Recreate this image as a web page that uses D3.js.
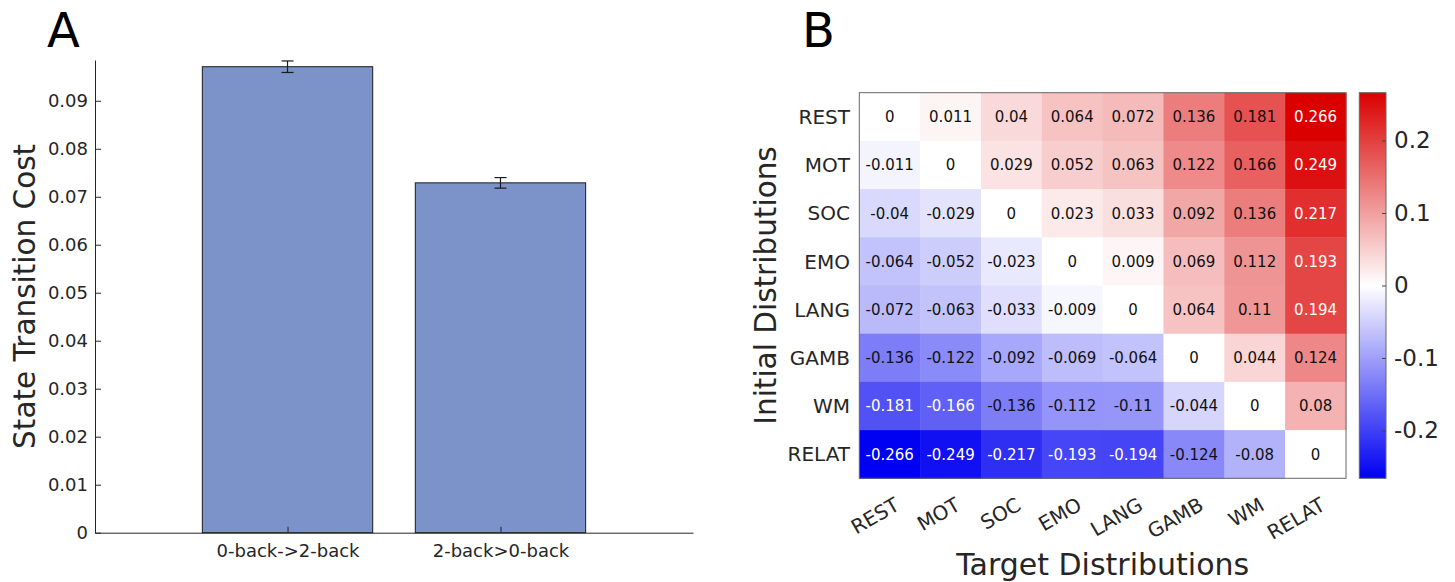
<!DOCTYPE html>
<html>
<head>
<meta charset="utf-8">
<script src="https://cdn.jsdelivr.net/npm/d3@7"></script>
<style>
  body { margin: 0; padding: 0; background: #fff; }
  text { font-family: "DejaVu Sans", sans-serif; }
</style>
</head>
<body>
<script>
// panel A data
const barLabels = ["0-back->2-back", "2-back>0-back"]
const barValues = [0.0971, 0.0729]
const barErrors = [0.0012, 0.0011]
const costTicks = [0, 0.01, 0.02, 0.03, 0.04, 0.05, 0.06, 0.07, 0.08, 0.09]

// panel B data (rows = initial, cols = target)
const states = ["REST", "MOT", "SOC", "EMO", "LANG", "GAMB", "WM", "RELAT"]
const transitionCost = [
  [0, 0.011, 0.04, 0.064, 0.072, 0.136, 0.181, 0.266],
  [-0.011, 0, 0.029, 0.052, 0.063, 0.122, 0.166, 0.249],
  [-0.04, -0.029, 0, 0.023, 0.033, 0.092, 0.136, 0.217],
  [-0.064, -0.052, -0.023, 0, 0.009, 0.069, 0.112, 0.193],
  [-0.072, -0.063, -0.033, -0.009, 0, 0.064, 0.11, 0.194],
  [-0.136, -0.122, -0.092, -0.069, -0.064, 0, 0.044, 0.124],
  [-0.181, -0.166, -0.136, -0.112, -0.11, -0.044, 0, 0.08],
  [-0.266, -0.249, -0.217, -0.193, -0.194, -0.124, -0.08, 0]
]
const colorTicks = [-0.2, -0.1, 0, 0.1, 0.2]

const width = 1455
const height = 582
const ink = "#262626"

const svg = d3.select("body").append("svg")
  .attr("width", width)
  .attr("height", height)

// ---------- panel A ----------
const a = svg.append("g")

const x = d3.scaleLinear().domain([0.096, 2.904]).range([95, 693])
const y = d3.scaleLinear().domain([0, 0.0985]).range([532.7, 60])

a.selectAll("rect.bar")
  .data(barValues)
  .join("rect")
  .attr("class", "bar")
  .attr("x", (d, i) => x(i + 1 - 0.4))
  .attr("width", x(1.4) - x(0.6))
  .attr("y", d => y(d))
  .attr("height", d => y(0) - y(d))
  .attr("fill", "#7c93c9")
  .attr("stroke", "#1a1a1a")
  .attr("stroke-width", 1)

// error bars
const err = a.append("g").attr("stroke", "#1a1a1a").attr("stroke-width", 1.2)
barValues.forEach((v, i) => {
  const cx = x(i + 1)
  const lo = y(v - barErrors[i]), hi = y(v + barErrors[i])
  err.append("line").attr("x1", cx).attr("x2", cx).attr("y1", lo).attr("y2", hi)
  err.append("line").attr("x1", cx - 6).attr("x2", cx + 6).attr("y1", lo).attr("y2", lo)
  err.append("line").attr("x1", cx - 6).attr("x2", cx + 6).attr("y1", hi).attr("y2", hi)
})

// y axis (ticks pointing inward like matlab)
const yAxis = a.append("g")
  .attr("transform", `translate(${x.range()[0]},0)`)
  .call(d3.axisRight(y).tickValues(costTicks).tickSize(6).tickSizeOuter(0)
    .tickFormat(d => d === 0 ? "0" : d3.format(".2f")(d)))
yAxis.select(".domain").attr("stroke", ink)
yAxis.selectAll(".tick line").attr("stroke", ink)
yAxis.selectAll(".tick text")
  .attr("x", -7)
  .attr("text-anchor", "end")
  .attr("fill", ink)
  .attr("font-size", 18)
  .attr("font-family", "DejaVu Sans")

// x axis
const xAxis = a.append("g")
  .attr("transform", `translate(0,${y(0)})`)
  .call(d3.axisTop(x).tickValues([1, 2]).tickSize(6).tickSizeOuter(0)
    .tickFormat((d, i) => barLabels[i]))
xAxis.select(".domain").attr("stroke", ink)
xAxis.selectAll(".tick line").attr("stroke", ink)
xAxis.selectAll(".tick text")
  .attr("y", 24)
  .attr("fill", ink)
  .attr("font-size", 18)
  .attr("font-family", "DejaVu Sans")

a.append("text")
  .attr("transform", `translate(35,${(y.range()[0] + y.range()[1]) / 2}) rotate(-90)`)
  .attr("text-anchor", "middle")
  .attr("font-size", 29.5)
  .attr("fill", ink)
  .text("State Transition Cost")

svg.append("text")
  .attr("x", 47).attr("y", 47)
  .attr("font-size", 48)
  .attr("fill", "#000")
  .text("A")

// ---------- panel B ----------
const b = svg.append("g")

const cx = d3.scaleBand().domain(states).range([859.3, 1346])
const cy = d3.scaleBand().domain(states).range([92.7, 478.3])
const vmax = 0.266
const color = d3.scaleLinear()
  .domain([-vmax, 0, vmax])
  .range(["#0000f2", "#ffffff", "#da0000"])

const cells = transitionCost.flatMap((row, r) =>
  row.map((v, c) => ({ row: states[r], col: states[c], v })))

b.selectAll("rect.cell")
  .data(cells)
  .join("rect")
  .attr("class", "cell")
  .attr("x", d => cx(d.col))
  .attr("y", d => cy(d.row))
  .attr("width", cx.bandwidth() + 0.5)
  .attr("height", cy.bandwidth() + 0.5)
  .attr("fill", d => color(d.v))

const lum = v => {
  const c = d3.rgb(color(v))
  return 0.299 * c.r + 0.587 * c.g + 0.114 * c.b
}

b.selectAll("text.val")
  .data(cells)
  .join("text")
  .attr("class", "val")
  .attr("x", d => cx(d.col) + cx.bandwidth() / 2)
  .attr("y", d => cy(d.row) + cy.bandwidth() / 2)
  .attr("dy", "0.36em")
  .attr("text-anchor", "middle")
  .attr("font-size", 15)
  .attr("fill", d => lum(d.v) < 120 ? "#fff" : "#111")
  .text(d => String(d.v))

b.append("rect")
  .attr("x", cx.range()[0]).attr("y", cy.range()[0])
  .attr("width", cx.range()[1] - cx.range()[0])
  .attr("height", cy.range()[1] - cy.range()[0])
  .attr("fill", "none")
  .attr("stroke", "#666")
  .attr("stroke-width", 1)

// row labels
b.selectAll("text.rowlab")
  .data(states)
  .join("text")
  .attr("class", "rowlab")
  .attr("x", 850)
  .attr("y", d => cy(d) + cy.bandwidth() / 2)
  .attr("dy", "0.36em")
  .attr("text-anchor", "end")
  .attr("font-size", 20)
  .attr("fill", ink)
  .text(d => d)

// column labels, rotated
b.selectAll("text.collab")
  .data(states)
  .join("text")
  .attr("class", "collab")
  .attr("transform", d => `translate(${cx(d) + cx.bandwidth() / 2 + 11},509) rotate(-30)`)
  .attr("text-anchor", "end")
  .attr("font-size", 20)
  .attr("fill", ink)
  .text(d => d)

b.append("text")
  .attr("x", (cx.range()[0] + cx.range()[1]) / 2)
  .attr("y", 575)
  .attr("text-anchor", "middle")
  .attr("font-size", 30)
  .attr("fill", ink)
  .text("Target Distributions")

b.append("text")
  .attr("transform", `translate(776,${(cy.range()[0] + cy.range()[1]) / 2}) rotate(-90)`)
  .attr("text-anchor", "middle")
  .attr("font-size", 29.5)
  .attr("fill", ink)
  .text("Initial Distributions")

// colorbar
const cbY = d3.scaleLinear().domain([-vmax, vmax]).range([478.3, 92.7])
const cbX0 = 1359.3, cbX1 = 1386

const grad = svg.append("defs").append("linearGradient")
  .attr("id", "cbar")
  .attr("x1", 0).attr("y1", 1).attr("x2", 0).attr("y2", 0)
grad.selectAll("stop")
  .data(color.domain())
  .join("stop")
  .attr("offset", d => (d + vmax) / (2 * vmax))
  .attr("stop-color", d => color(d))

b.append("rect")
  .attr("x", cbX0).attr("y", cbY.range()[1])
  .attr("width", cbX1 - cbX0)
  .attr("height", cbY.range()[0] - cbY.range()[1])
  .attr("fill", "url(#cbar)")
  .attr("stroke", "#666")
  .attr("stroke-width", 1)

const cbAxis = b.append("g")
  .attr("transform", `translate(${cbX1},0)`)
  .call(d3.axisLeft(cbY).tickValues(colorTicks).tickSize(4).tickSizeOuter(0)
    .tickFormat(d => d === 0 ? "0" : (d < 0 ? "-" : "") + Math.abs(d)))
cbAxis.select(".domain").remove()
cbAxis.selectAll(".tick line").attr("stroke", "#444")
cbAxis.selectAll(".tick text")
  .attr("x", 8)
  .attr("text-anchor", "start")
  .attr("fill", ink)
  .attr("font-size", 23)
  .attr("font-family", "DejaVu Sans")

svg.append("text")
  .attr("x", 802).attr("y", 47)
  .attr("font-size", 48)
  .attr("fill", "#000")
  .text("B")
</script>
</body>
</html>
